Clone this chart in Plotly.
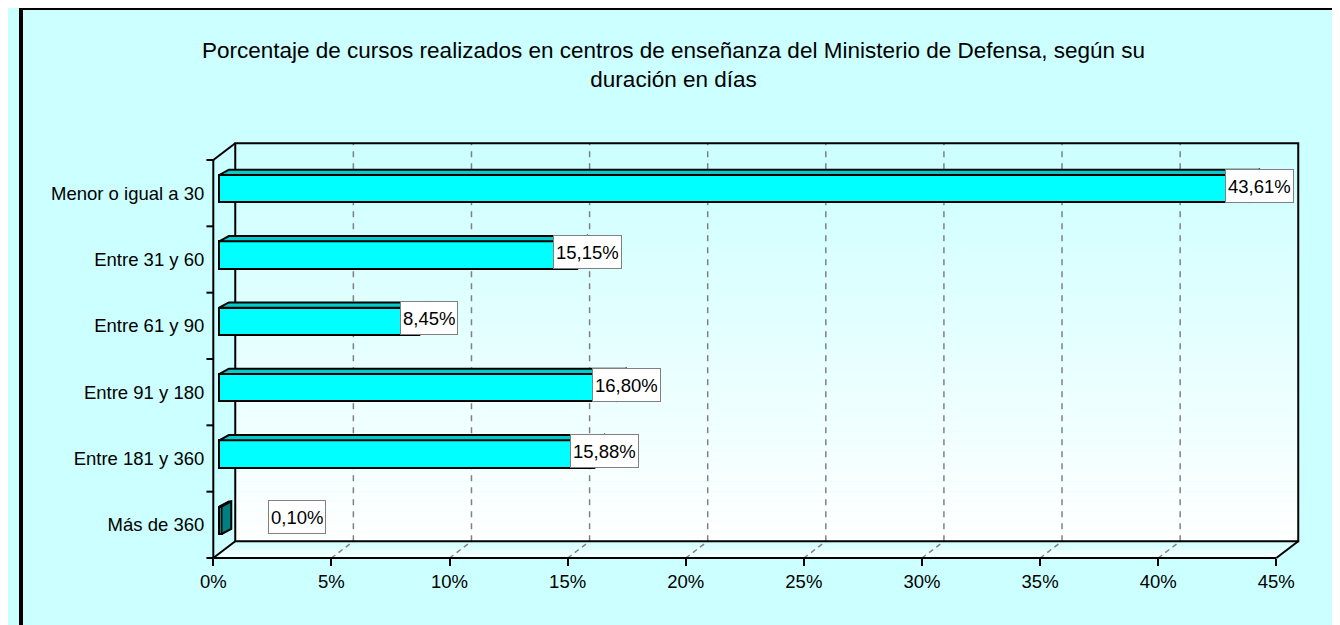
import plotly.graph_objects as go

# ---------------- data ----------------
categories = ["Menor o igual a 30", "Entre 31 y 60", "Entre 61 y 90",
              "Entre 91 y 180", "Entre 181 y 360", "Más de 360"]
values = [43.61, 15.15, 8.45, 16.80, 15.88, 0.10]
value_labels = ["43,61%", "15,15%", "8,45%", "16,80%", "15,88%", "0,10%"]
x_tick_values = [0, 5, 10, 15, 20, 25, 30, 35, 40, 45]
x_tick_labels = ["0%", "5%", "10%", "15%", "20%", "25%", "30%", "35%", "40%", "45%"]
title_text = ("Porcentaje de cursos realizados en centros de enseñanza del Ministerio de Defensa, según su"
              "<br>duración en días")

# ---------------- geometry / style ----------------
W, H = 1340, 625
OFF = 8                        # page body margin
FX0, FX1 = 205 - OFF, 1294 - OFF      # front plane pixels for 0 and max
FY_BOT, FY_TOP = 558 - OFF, 160 - OFF
XMAX = x_tick_values[-1]
n = len(categories)
kx = (FX1 - FX0) / XMAX
ky = (FY_BOT - FY_TOP) / n
x_range = [-FX0 / kx, (W - FX0) / kx]
y_range = [-0.5 - (H - FY_BOT) / ky, n - 0.5 + FY_TOP / ky]


def dx(p):
    return p / kx


def dy(p):
    return p / ky


WDX, WDY = dx(22.5), dy(16.7)       # wall depth
BX0, BY0 = dx(6), dy(4.45)          # bar front-face offset
BH = dy(13.7)                        # half height of bar face
BDX, BDY = dx(10), dy(5.3)          # bar depth
FONT = "Arial, 'Liberation Sans', sans-serif"
FS = 18.5
BG = "#CCFFFF"
label_nudge_px = {"Más de 360": 75}

ypos = [n - 1 - i for i in range(n)]
y_lo, y_hi = -0.5, n - 0.5

shapes = []


def lerp_col(c1, c2, t):
    return "rgb(%d,%d,%d)" % tuple(round(a + (b - a) * t) for a, b in zip(c1, c2))


cyan = (204, 255, 255)
white = (255, 255, 255)

# back wall gradient (top cyan -> bottom white)
NB = 40
for k in range(NB):
    t0 = k / NB
    t1 = (k + 1) / NB
    ya = y_hi + WDY - (y_hi - y_lo) * t0
    yb = y_hi + WDY - (y_hi - y_lo) * t1
    shapes.append(dict(type="rect", xref="x", yref="y", layer="below",
                       x0=WDX, x1=XMAX + WDX, y0=yb, y1=ya + 0.002,
                       fillcolor=lerp_col(cyan, white, (t0 + t1) / 2), line=dict(width=0)))

# floor gradient (back cyan -> front white)
NF = 12
for k in range(NF):
    t0 = k / NF
    t1 = (k + 1) / NF
    xa, ya = WDX * (1 - t0), y_lo + WDY * (1 - t0)
    xb, yb = WDX * (1 - t1), y_lo + WDY * (1 - t1)
    path = "M %f %f L %f %f L %f %f L %f %f Z" % (xa, ya, XMAX + xa, ya, XMAX + xb, yb, xb, yb)
    shapes.append(dict(type="path", xref="x", yref="y", layer="below", path=path,
                       fillcolor=lerp_col(cyan, white, (t0 + t1) / 2), line=dict(width=0)))

# dashed gridlines on wall and floor
for v in x_tick_values[1:-1]:
    shapes.append(dict(type="line", xref="x", yref="y", layer="below",
                       x0=v + WDX, x1=v + WDX, y0=y_lo + WDY, y1=y_hi + WDY,
                       line=dict(color="#808080", width=1.5, dash="6px,6px")))
    shapes.append(dict(type="line", xref="x", yref="y", layer="below",
                       x0=v, x1=v + WDX, y0=y_lo, y1=y_lo + WDY,
                       line=dict(color="#808080", width=1.5, dash="5px,4px")))

blk = dict(color="black", width=2)
# back wall border
shapes.append(dict(type="rect", xref="x", yref="y", layer="below",
                   x0=WDX, x1=XMAX + WDX, y0=y_lo + WDY, y1=y_hi + WDY, line=blk))
# side wall edges, front floor edge
for (a, b, c, d) in [(0, y_lo, 0, y_hi), (0, y_hi, WDX, y_hi + WDY), (0, y_lo, WDX, y_lo + WDY),
                     (0, y_lo, XMAX, y_lo), (XMAX, y_lo, XMAX + WDX, y_lo + WDY)]:
    shapes.append(dict(type="line", xref="x", yref="y", layer="below",
                       x0=a, y0=b, x1=c, y1=d, line=blk))
# category boundary ticks on the left axis
for k in range(n + 1):
    yb = y_lo + k
    shapes.append(dict(type="line", xref="x", yref="y", layer="below",
                       x0=-dx(7), x1=0, y0=yb, y1=yb, line=blk))

# outer frame (left and top edges visible)
shapes.append(dict(type="rect", xref="paper", yref="paper", layer="below",
                   x0=0, x1=1.02, y0=-0.05, y1=1,
                   line=dict(color="black", width=4)))

fig = go.Figure()

# bar front faces
fig.add_trace(go.Bar(orientation="h", x=values, y=[p + BY0 for p in ypos], base=BX0,
                     width=2 * BH, marker=dict(color="#00FFFF", line=dict(color="black", width=2)),
                     hoverinfo="skip", showlegend=False))

# top and side faces
top_x, top_y, side_x, side_y = [], [], [], []
for v, p in zip(values, ypos):
    x0, x1 = BX0, BX0 + v
    yt, yb = p + BY0 + BH, p + BY0 - BH
    top_x += [x0, x1, x1 + BDX, x0 + BDX, x0, None]
    top_y += [yt, yt, yt + BDY, yt + BDY, yt, None]
    side_x += [x1, x1, x1 + BDX, x1 + BDX, x1, None]
    side_y += [yb, yt, yt + BDY, yb + BDY, yb, None]
fig.add_trace(go.Scatter(x=top_x, y=top_y, mode="lines", fill="toself", fillcolor="#00CCCC",
                         line=dict(color="black", width=2), hoverinfo="skip", showlegend=False))
fig.add_trace(go.Scatter(x=side_x, y=side_y, mode="lines", fill="toself", fillcolor="#008080",
                         line=dict(color="black", width=2), hoverinfo="skip", showlegend=False))

# dummy trace for the front-plane axes
fig.add_trace(go.Scatter(x=[None], y=[None], xaxis="x2", yaxis="y2", showlegend=False,
                         hoverinfo="skip"))

annotations = []
for cat, v, p, lab in zip(categories, values, ypos, value_labels):
    annotations.append(dict(x=BX0 + v, y=p + BY0, xref="x", yref="y", text=lab, showarrow=False,
                            xshift=label_nudge_px.get(cat, 10), yshift=3,
                            font=dict(family=FONT, size=FS, color="black"),
                            bgcolor="white", bordercolor="#808080", borderwidth=1,
                            borderpad=2, height=28))
annotations.append(dict(x=(676 - OFF) / W, y=1 - (36 - OFF) / H, xref="paper", yref="paper",
                        xanchor="center", yanchor="top", text=title_text, showarrow=False,
                        align="center", font=dict(family=FONT, size=22.5, color="black")))

fig.update_layout(
    width=W, height=H, autosize=False,
    margin=dict(l=0, r=0, t=0, b=0),
    paper_bgcolor=BG, plot_bgcolor="rgba(0,0,0,0)",
    showlegend=False, bargap=0,
    xaxis=dict(range=x_range, visible=False, fixedrange=True),
    yaxis=dict(range=y_range, visible=False, fixedrange=True),
    xaxis2=dict(domain=[FX0 / W, FX1 / W], anchor="y2", range=[0, XMAX],
                tickmode="array", tickvals=x_tick_values, ticktext=x_tick_labels,
                ticks="outside", ticklen=7, tickwidth=2, tickcolor="black",
                showgrid=False, zeroline=False, showline=False,
                tickfont=dict(family=FONT, size=FS, color="black")),
    yaxis2=dict(domain=[(H - FY_BOT) / H, (H - FY_TOP) / H], anchor="x2", range=[y_lo, y_hi],
                tickmode="array", tickvals=ypos, ticktext=categories, ticks="",
                showgrid=False, zeroline=False, showline=False, ticklabelstandoff=8,
                tickfont=dict(family=FONT, size=FS, color="black")),
    shapes=shapes,
    annotations=annotations,
)

fig.write_html("out.html")
